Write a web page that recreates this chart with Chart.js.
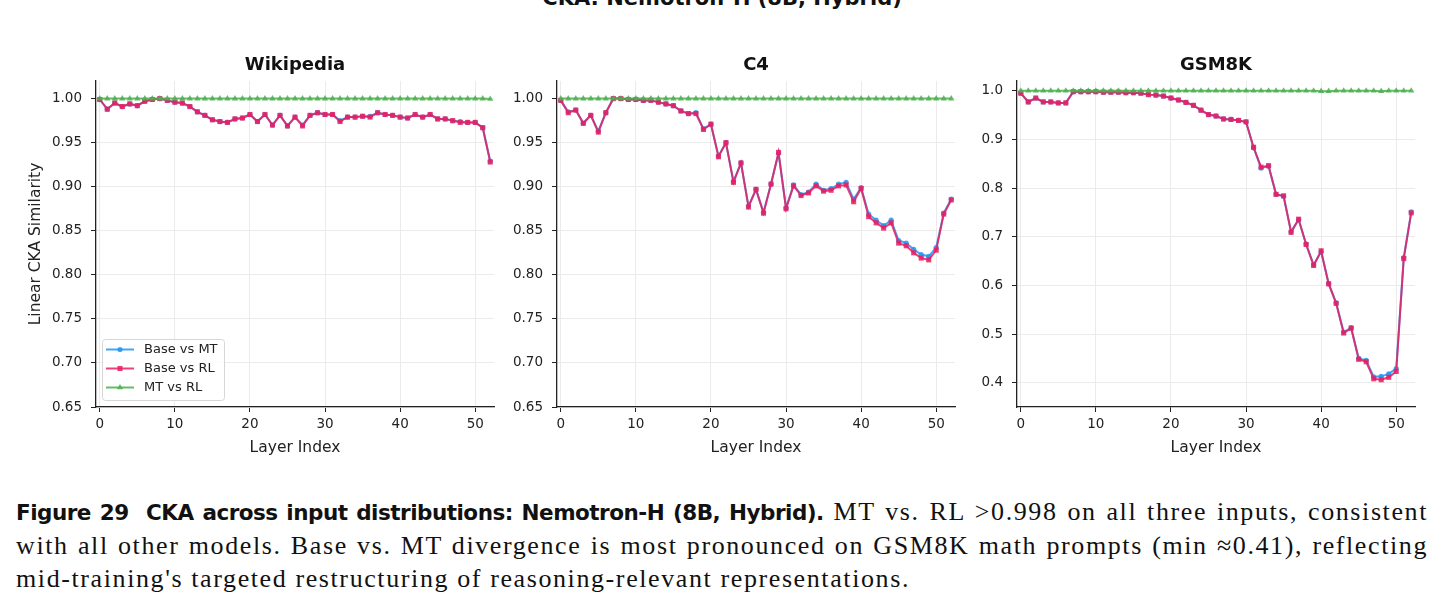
<!DOCTYPE html>
<html>
<head>
<meta charset="utf-8">
<title>CKA: Nemotron-H (8B, Hybrid)</title>
<script src="https://cdn.jsdelivr.net/npm/chart.js@4.4.1/dist/chart.umd.min.js"></script>
<style>
  body { margin: 0; background: #fff; width: 1444px; height: 607px; overflow: hidden; position: relative; }
  #supTitle { position: absolute; left: 0; top: -13px; width: 1444px; text-align: center;
    font-family: 'DejaVu Sans', sans-serif; font-weight: bold; font-size: 21px; line-height: 22px; color: #111; }
  canvas { position: absolute; top: 40px; }
  #caption { position: absolute; left: 16px; top: 495px; width: 1412px; color: #111;
    font-family: 'Liberation Serif', serif; font-size: 26px; line-height: 33px; letter-spacing: 1.6px; }
  #caption span { display: block; white-space: nowrap; }
  #caption .just { text-align: justify; text-align-last: justify; }
  #caption b { font-family: 'DejaVu Sans', sans-serif; font-size: 21.5px; letter-spacing: -0.5px; }
</style>
</head>
<body>
<div id="supTitle">CKA: Nemotron-H (8B, Hybrid)</div>
<canvas id="wiki" width="504" height="430" style="left:0px"></canvas>
<canvas id="c4" width="465" height="430" style="left:500px"></canvas>
<canvas id="gsm" width="465" height="430" style="left:960px"></canvas>
<div id="caption">
  <span class="just"><b>Figure 29&nbsp;&nbsp;CKA across input distributions: Nemotron-H (8B, Hybrid).</b> MT vs. RL &gt;0.998 on all three inputs, consistent</span>
  <span class="just">with all other models. Base vs. MT divergence is most pronounced on GSM8K math prompts (min &#8776;0.41), reflecting</span>
  <span>mid-training's targeted restructuring of reasoning-relevant representations.</span>
</div>
<script>
// layer index on x
const layers = [0, 1, 2, 3, 4, 5, 6, 7, 8, 9, 10, 11, 12, 13, 14, 15, 16, 17, 18, 19, 20, 21, 22, 23, 24, 25, 26,
  27, 28, 29, 30, 31, 32, 33, 34, 35, 36, 37, 38, 39, 40, 41, 42, 43, 44, 45, 46, 47, 48, 49, 50, 51, 52];

const seriesNames = ["Base vs MT", "Base vs RL", "MT vs RL"];

// wikipedia
const wikiBaseMT = [0.999, 0.988, 0.995, 0.991, 0.994, 0.992, 0.997, 0.999, 1.000, 0.998,
  0.996, 0.995, 0.991, 0.985, 0.981, 0.976, 0.974, 0.973, 0.977, 0.978,
  0.982, 0.974, 0.982, 0.970, 0.981, 0.969, 0.979, 0.970, 0.981, 0.984,
  0.982, 0.982, 0.975, 0.979, 0.979, 0.980, 0.980, 0.984, 0.982, 0.981,
  0.979, 0.978, 0.982, 0.979, 0.982, 0.977, 0.977, 0.975, 0.974, 0.973,
  0.973, 0.967, 0.929];
const wikiBaseRL = [0.999, 0.988, 0.995, 0.991, 0.994, 0.992, 0.997, 0.999, 1.000, 0.998,
  0.996, 0.995, 0.991, 0.985, 0.981, 0.976, 0.974, 0.973, 0.977, 0.978,
  0.982, 0.974, 0.982, 0.970, 0.981, 0.969, 0.979, 0.969, 0.981, 0.984,
  0.982, 0.982, 0.974, 0.979, 0.979, 0.980, 0.979, 0.984, 0.982, 0.981,
  0.979, 0.978, 0.982, 0.979, 0.982, 0.977, 0.977, 0.975, 0.973, 0.973,
  0.973, 0.967, 0.928];
const wikiMTRL = [1.000, 1.000, 1.000, 1.000, 1.000, 1.000, 1.000, 1.000, 1.000, 1.000,
  1.000, 1.000, 1.000, 1.000, 1.000, 1.000, 1.000, 1.000, 1.000, 1.000,
  1.000, 1.000, 1.000, 1.000, 1.000, 1.000, 1.000, 1.000, 1.000, 1.000,
  1.000, 1.000, 1.000, 1.000, 1.000, 1.000, 1.000, 1.000, 1.000, 1.000,
  1.000, 1.000, 1.000, 1.000, 1.000, 1.000, 1.000, 1.000, 1.000, 1.000,
  1.000, 1.000, 0.9995];

// c4
const c4BaseMT = [0.998, 0.985, 0.987, 0.972, 0.981, 0.963, 0.984, 1.000, 1.000, 0.999,
  0.999, 0.998, 0.998, 0.996, 0.994, 0.992, 0.986, 0.983, 0.984, 0.966,
  0.971, 0.935, 0.950, 0.906, 0.927, 0.878, 0.897, 0.871, 0.903, 0.938,
  0.876, 0.902, 0.891, 0.894, 0.903, 0.896, 0.898, 0.903, 0.905, 0.886,
  0.899, 0.869, 0.862, 0.856, 0.862, 0.839, 0.836, 0.829, 0.823, 0.821,
  0.831, 0.870, 0.886];
const c4BaseRL = [0.998, 0.984, 0.987, 0.972, 0.981, 0.962, 0.984, 1.000, 1.000, 0.999,
  0.999, 0.998, 0.998, 0.996, 0.994, 0.992, 0.986, 0.983, 0.983, 0.965,
  0.971, 0.934, 0.950, 0.905, 0.927, 0.877, 0.897, 0.870, 0.903, 0.939,
  0.875, 0.901, 0.890, 0.893, 0.901, 0.895, 0.896, 0.901, 0.902, 0.883,
  0.898, 0.866, 0.859, 0.853, 0.859, 0.836, 0.833, 0.825, 0.819, 0.817,
  0.828, 0.869, 0.885];
const c4MTRL = [1.000, 1.000, 1.000, 1.000, 1.000, 1.000, 1.000, 1.000, 1.000, 1.000,
  1.000, 1.000, 1.000, 1.000, 1.000, 1.000, 1.000, 1.000, 1.000, 1.000,
  1.000, 1.000, 1.000, 1.000, 1.000, 1.000, 1.000, 1.000, 1.000, 1.000,
  1.000, 1.000, 1.000, 1.000, 1.000, 1.000, 1.000, 1.000, 1.000, 1.000,
  1.000, 1.000, 1.000, 1.000, 1.000, 1.000, 1.000, 1.000, 1.000, 1.000,
  1.000, 1.000, 1.000];

// gsm8k
const gsmBaseMT = [0.995, 0.977, 0.985, 0.977, 0.977, 0.975, 0.975, 0.998, 0.998, 0.998,
  0.998, 0.997, 0.997, 0.997, 0.996, 0.996, 0.995, 0.992, 0.991, 0.989,
  0.985, 0.981, 0.976, 0.970, 0.960, 0.951, 0.948, 0.942, 0.941, 0.939,
  0.936, 0.883, 0.841, 0.845, 0.787, 0.783, 0.710, 0.735, 0.685, 0.642,
  0.669, 0.604, 0.564, 0.504, 0.513, 0.450, 0.446, 0.412, 0.413, 0.418,
  0.429, 0.657, 0.751];
const gsmBaseRL = [0.995, 0.977, 0.985, 0.977, 0.977, 0.975, 0.975, 0.998, 0.998, 0.998,
  0.998, 0.997, 0.997, 0.997, 0.996, 0.996, 0.995, 0.992, 0.991, 0.989,
  0.985, 0.981, 0.976, 0.970, 0.960, 0.951, 0.948, 0.942, 0.941, 0.939,
  0.936, 0.884, 0.843, 0.846, 0.787, 0.784, 0.709, 0.736, 0.684, 0.641,
  0.671, 0.603, 0.563, 0.502, 0.512, 0.448, 0.443, 0.408, 0.406, 0.411,
  0.423, 0.655, 0.749];
const gsmMTRL = [1.000, 1.000, 1.000, 1.000, 1.000, 1.000, 1.000, 1.000, 1.000, 1.000,
  1.000, 1.000, 1.000, 1.000, 1.000, 1.000, 1.000, 1.000, 1.000, 1.000,
  1.000, 1.000, 1.000, 1.000, 1.000, 1.000, 1.000, 1.000, 1.000, 1.000,
  1.000, 1.000, 1.000, 1.000, 1.000, 1.000, 1.000, 1.000, 1.000, 1.000,
  0.999, 0.999, 1.000, 1.000, 1.000, 1.000, 1.000, 1.000, 0.999, 1.000,
  1.000, 1.000, 1.000];

// tick labels
const xTicks = [0, 10, 20, 30, 40, 50];
const yTicksFine = [0.65, 0.70, 0.75, 0.80, 0.85, 0.90, 0.95, 1.00];
const yTicksCoarse = [0.4, 0.5, 0.6, 0.7, 0.8, 0.9, 1.0];

const colors = ["rgba(33,150,243,0.85)", "rgba(233,30,99,0.85)", "rgba(76,175,80,0.85)"];
const markers = ["circle", "rect", "triangle"];
const markerSize = [2.6, 3.6, 3.6];

Chart.defaults.font.family = "'DejaVu Sans', sans-serif";
Chart.defaults.color = "#222";

// legend drawn inside the first panel, lower left
const insideLegend = {
  id: "insideLegend",
  afterDraw(chart) {
    const { ctx, chartArea } = chart;
    const x0 = chartArea.left + 6;
    const y0 = chartArea.bottom - 68;
    ctx.save();
    ctx.beginPath();
    ctx.roundRect(x0 + 0.5, y0 + 0.5, 122, 61, 3);
    ctx.fillStyle = "rgba(255,255,255,0.85)";
    ctx.fill();
    ctx.strokeStyle = "#d6d6d6";
    ctx.lineWidth = 1;
    ctx.stroke();
    chart.data.datasets.forEach((ds, i) => {
      const y = y0 + 10.5 + 19 * i;
      ctx.strokeStyle = ds.borderColor;
      ctx.fillStyle = ds.borderColor;
      ctx.lineWidth = 2;
      ctx.beginPath();
      ctx.moveTo(x0 + 4, y);
      ctx.lineTo(x0 + 32, y);
      ctx.stroke();
      Chart.helpers.drawPoint(ctx, { pointStyle: ds.pointStyle, radius: ds.pointRadius, borderWidth: 0, rotation: 0 }, x0 + 18, y);
      ctx.fillStyle = "#222";
      ctx.font = "13px 'DejaVu Sans'";
      ctx.textBaseline = "middle";
      ctx.fillText(ds.label, x0 + 42, y + 0.5);
    });
    ctx.restore();
  },
};

const makePanel = (id, title, series, yMin, yTicks, digits, yWidth, yTitle, withLegend) => {
  const datasets = series.map((vals, i) => ({
    label: seriesNames[i],
    data: layers.map((l, k) => ({ x: l, y: vals[k] })),
    borderColor: colors[i],
    backgroundColor: colors[i],
    borderWidth: 2,
    pointStyle: markers[i],
    pointRadius: markerSize[i],
    pointBorderWidth: 0,
    order: 2 - i,
  }));

  new Chart(document.getElementById(id), {
    type: "line",
    data: { datasets },
    plugins: withLegend ? [insideLegend] : [],
    options: {
      responsive: false,
      animation: false,
      layout: { padding: { right: 10, left: 0, top: 0, bottom: 0 } },
      plugins: {
        legend: { display: false },
        tooltip: { enabled: false },
        title: {
          display: true,
          fullSize: false,
          text: title,
          color: "#111",
          font: { size: 18, weight: "bold" },
          padding: { top: 15, bottom: 4.4 },
        },
      },
      scales: {
        x: {
          type: "linear",
          min: -0.5,
          max: 52.5,
          afterBuildTicks: (s) => { s.ticks = xTicks.map((v) => ({ value: v })); },
          afterFit: (s) => { s.height = 63; },
          grid: { color: "#ebebeb", lineWidth: 1, tickLength: 5, tickColor: "#222" },
          border: { color: "#222", width: 1.3 },
          ticks: { font: { size: 13.5 }, padding: 4, maxRotation: 0, autoSkip: false },
          title: { display: true, text: "Layer Index", font: { size: 15.5 }, padding: { top: 0, bottom: 13 } },
        },
        y: {
          min: yMin,
          max: 1.02,
          afterBuildTicks: (s) => { s.ticks = yTicks.map((v) => ({ value: v })); },
          afterFit: (s) => { s.width = yWidth; },
          grid: { color: "#ebebeb", lineWidth: 1, tickLength: 5, tickColor: "#222" },
          border: { color: "#222", width: 1.3 },
          ticks: { font: { size: 13.5 }, padding: 9, callback: (v) => v.toFixed(digits) },
          title: { display: yTitle, text: "Linear CKA Similarity", font: { size: 15.5 }, padding: { top: 27, bottom: 0 } },
        },
      },
    },
  });
};

makePanel("wiki", "Wikipedia", [wikiBaseMT, wikiBaseRL, wikiMTRL], 0.65, yTicksFine, 2, 96, true, true);
makePanel("c4", "C4", [c4BaseMT, c4BaseRL, c4MTRL], 0.65, yTicksFine, 2, 57, false, false);
makePanel("gsm", "GSM8K", [gsmBaseMT, gsmBaseRL, gsmMTRL], 0.35, yTicksCoarse, 1, 57, false, false);
</script>
</body>
</html>
